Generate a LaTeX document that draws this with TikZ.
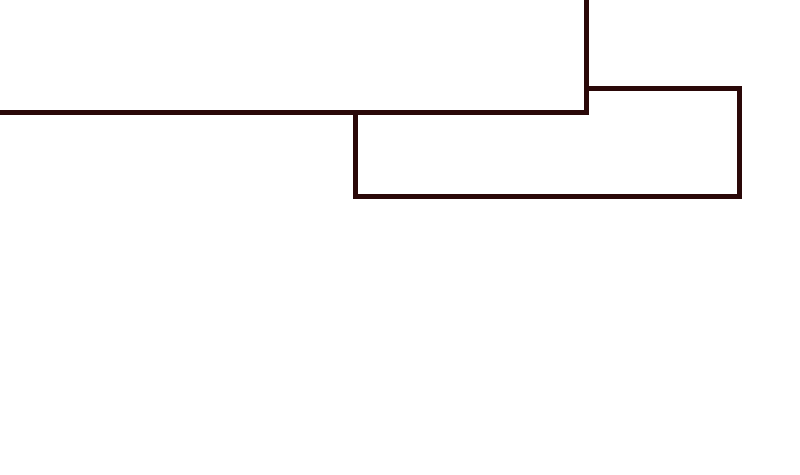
\documentclass[tikz,border=0pt]{standalone}
\usepackage{tikz}
\definecolor{edgebrown}{HTML}{2A0808}

\begin{document}
\begin{tikzpicture}[x=0.02cm, y=-0.02cm]
			%%%%% START %%%%%
			
			\useasboundingbox (0, 0) rectangle (800, 474);
			\clip (0, 0) rectangle (800, 474);
			
			\draw[line width=0.1cm, color=edgebrown, fill=white] (355.5, 88.5) rectangle (739.5, 196);
			\draw[line width=0.1cm, color=edgebrown, fill=white] (-20, -20) rectangle (586.5, 112.5);
			
			%%%%% END %%%%%
\end{tikzpicture}
\end{document}
